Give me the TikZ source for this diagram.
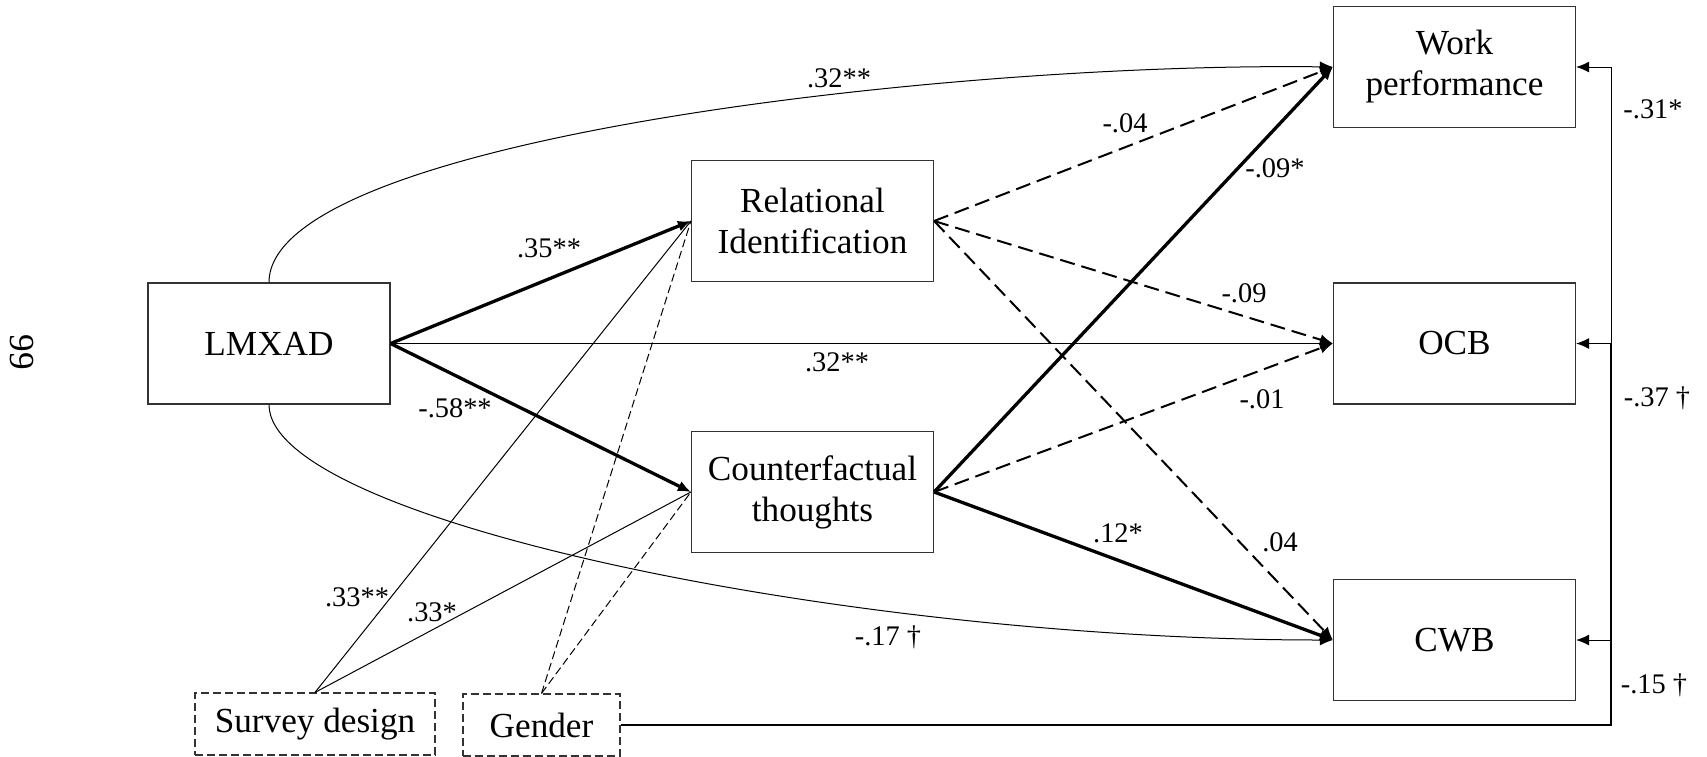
\documentclass[tikz,border=0pt]{standalone}
\usepackage{fontspec}
\setmainfont{Liberation Serif}
\usetikzlibrary{arrows.meta}

\begin{document}
\begin{tikzpicture}[x=0.5pt, y=-0.5pt,
  box/.style={draw=black!80, line width=0.6pt, minimum width=121pt, minimum height=60.5pt, inner sep=0pt, align=center, font=\fontsize{17.6pt}{20.5pt}\selectfont},
  ctrlbox/.style={box, dash pattern=on 4pt off 2pt, minimum height=31pt},
  lbl/.style={inner sep=0pt, font=\fontsize{14.2pt}{17pt}\selectfont},
  tip/.style={-{Latex[length=6.5pt, width=5.5pt]}},
  sig/.style={tip, line width=1.65pt},
  thinarr/.style={tip, line width=0.5pt},
  ns/.style={tip, line width=1pt, dash pattern=on 7.5pt off 3.5pt},
  ctrl/.style={line width=0.5pt},
  ctrlns/.style={line width=0.5pt, dash pattern=on 4pt off 2pt}]

\useasboundingbox (0,0) rectangle (1707,756);

\node[font=\fontsize{17.6pt}{20pt}\selectfont, rotate=-90] (pagenum) at (22,352) {99};

% variables
\node[box] (lmxad) at (269,343.5) {LMXAD};
\node[box] (relid) at (812.5,221) {Relational\\Identification};
\node[box] (cft) at (812.5,492) {Counterfactual\\thoughts};
\node[box] (wp) at (1454.5,67) {Work\\performance};
\node[box] (ocb) at (1454.5,343.5) {OCB};
\node[box] (cwb) at (1454.5,640) {CWB};

% controls
\node[ctrlbox, minimum width=120pt] (survey) at (315,724) {Survey design};
\node[ctrlbox, minimum width=78.5pt] (gender) at (541.5,725) {Gender};

% paths from LMXAD
\draw[sig] (lmxad.east) -- (relid.west);
\draw[sig] (lmxad.east) -- (cft.west);
\draw[thinarr] (lmxad.east) -- (ocb.west);
\draw[thinarr] (lmxad.north) .. controls +(0,-143) and +(-384,-5) .. (wp.west);
\draw[thinarr] (lmxad.south) .. controls +(0,116) and +(-484,0) .. (cwb.west);

% paths from mediators
\draw[ns] (relid.east) -- (wp.west);
\draw[ns] (relid.east) -- (ocb.west);
\draw[ns] (relid.east) -- (cwb.west);
\draw[sig] (cft.east) -- (wp.west);
\draw[ns] (cft.east) -- (ocb.west);
\draw[sig] (cft.east) -- (cwb.west);

% control paths
\draw[ctrl] (survey.north) -- (relid.west);
\draw[ctrl] (survey.north) -- (cft.west);
\draw[ctrlns] (gender.north) -- (relid.west);
\draw[ctrlns] (gender.north) -- (cft.west);

\coordinate (fbwp) at (1611,67);
\coordinate (fbocb) at (1611,343.5);
\coordinate (fbcwb) at (1611,640);
\draw[line width=1pt] (gender.east) -| (fbocb);
\draw[ctrl] (fbocb) -- (fbwp);
\draw[thinarr] (fbwp) -- (wp.east);
\draw[thinarr] (fbocb) -- (ocb.east);
\draw[thinarr] (fbcwb) -- (cwb.east);

% coefficients
\node[lbl] (b35) at (549,248) {.35**};
\node[lbl] (b58) at (455,408) {-.58**};
\node[lbl] (c32) at (837,362) {.32**};
\node[lbl] (t32) at (839,78) {.32**};
\node[lbl] (r04) at (1125,123) {-.04};
\node[lbl] (c09) at (1275,168) {-.09*};
\node[lbl] (r09) at (1244,293) {-.09};
\node[lbl] (c01) at (1262,399) {-.01};
\node[lbl] (c12) at (1118,533) {.12*};
\node[lbl] (r04b) at (1280,542) {.04};
\node[lbl] (l17) at (888,637) {-.17 †};
\node[lbl] (s33a) at (357,597) {.33**};
\node[lbl] (s33b) at (432,612) {.33*};
\node[lbl] (f31) at (1653,109) {-.31*};
\node[lbl] (f37) at (1657,398) {-.37 †};
\node[lbl] (f15) at (1654,685) {-.15 †};

\end{tikzpicture}
\end{document}
